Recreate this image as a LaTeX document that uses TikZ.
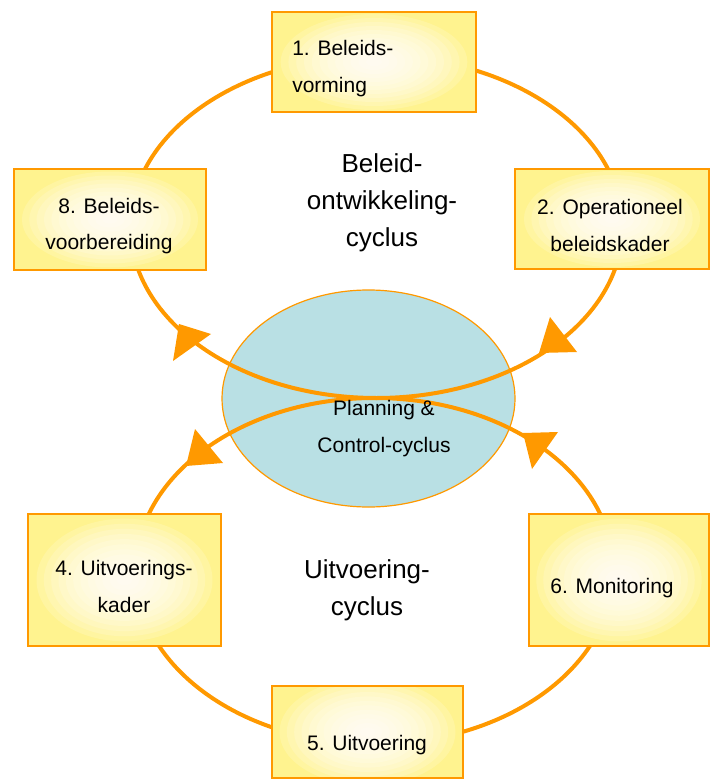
\documentclass[tikz,border=0pt]{standalone}
\usepackage{fontspec}
\setmainfont{Liberation Sans}
\usetikzlibrary{shapes.geometric}
\definecolor{cycorange}{HTML}{FF9900}
\definecolor{boxyellow}{HTML}{FFF38F}
\definecolor{pcblue}{HTML}{B9E0E4}
\tikzset{
  cyc/.style={draw=cycorange, line width=3pt},
  tip/.style={fill=cycorange},
  stagebox/.style={fill=boxyellow, rectangle, inner sep=0pt},
  boxrim/.style={draw=cycorange, line width=1.5pt},
  small/.style={font=\fontsize{15.75pt}{27.75pt}\selectfont, inner sep=0pt},
  big/.style={font=\fontsize{19.5pt}{27.75pt}\selectfont, inner sep=0pt, align=center, anchor=base},
  pcell/.style={ellipse, draw=cycorange, line width=0.9pt, fill=pcblue, inner sep=0pt}
}
% radial white glow inside a box node, then its orange rim
\newcommand\glowbox[3]{%
  \begin{scope}
    \clip (#1.south west) rectangle (#1.north east);
    \foreach \k [evaluate=\k as \rx using #2*\k/12, evaluate=\k as \ry using #3*\k/12] in {1,...,12}
      {\fill[white, fill opacity=0.17] (#1.center) ellipse [x radius=\rx pt, y radius=\ry pt];}
  \end{scope}
  \draw[boxrim] (#1.south west) rectangle (#1.north east);
}
\begin{document}
\begin{tikzpicture}[x=0.75pt, y=-0.75pt]
\useasboundingbox (0,0) rectangle (710,780);
% central planning & control ellipse
\node[pcell, minimum width=219.75pt, minimum height=162.75pt] (pc) at (368.5,398.5) {};
% the two cycles
\draw[cyc] (376.5,227) ellipse [x radius=184.5pt, y radius=128.25pt];
\draw[cyc] (374.5,571) ellipse [x radius=179.25pt, y radius=129.75pt];
% arrowheads
\fill[tip] (173,361) -- (179,324) -- (211,334) -- cycle;
\fill[tip] (550,317) -- (577,352) -- (539,353) -- cycle;
\fill[tip] (195,429) -- (223,463) -- (186,466) -- cycle;
\fill[tip] (523,433) -- (558,432) -- (532,469) -- cycle;
% stage boxes
\node[stagebox, minimum width=153pt, minimum height=75pt] (b1) at (374,62) {};
\glowbox{b1}{70}{36}
\node[stagebox, minimum width=145.5pt, minimum height=75pt] (b2) at (612,219) {};
\glowbox{b2}{66}{36}
\node[stagebox, minimum width=144pt, minimum height=75.75pt] (b8) at (110,219.5) {};
\glowbox{b8}{66}{36}
\node[stagebox, minimum width=144.75pt, minimum height=99pt] (b4) at (124.5,580) {};
\glowbox{b4}{66}{46}
\node[stagebox, minimum width=135pt, minimum height=99pt] (b6) at (619,580) {};
\glowbox{b6}{62}{46}
\node[stagebox, minimum width=143.25pt, minimum height=69pt] (b5) at (367.5,732) {};
\glowbox{b5}{66}{40}
% labels
\node[small, align=left, anchor=base west] (t1) at (292,93) {1. Beleids-\\vorming};
\node[small, align=center, anchor=base] (t2) at (610,252) {2. Operationeel\\beleidskader};
\node[small, align=center, anchor=base] (t8) at (109,250) {8. Beleids-\\voorbereiding};
\node[small, align=center, anchor=base] (t4) at (124,612) {4. Uitvoerings-\\kader};
\node[small, anchor=base] (t6) at (612,593) {6. Monitoring};
\node[small, anchor=base] (t5) at (367,750) {5. Uitvoering};
\node[small, align=center, anchor=base] (tpc) at (384,452) {Planning \&\\Control-cyclus};
\node[big] (tb) at (382,247) {Beleid-\\ontwikkeling-\\cyclus};
\node[big] (tu) at (367,615) {Uitvoering-\\cyclus};
\end{tikzpicture}
\end{document}
